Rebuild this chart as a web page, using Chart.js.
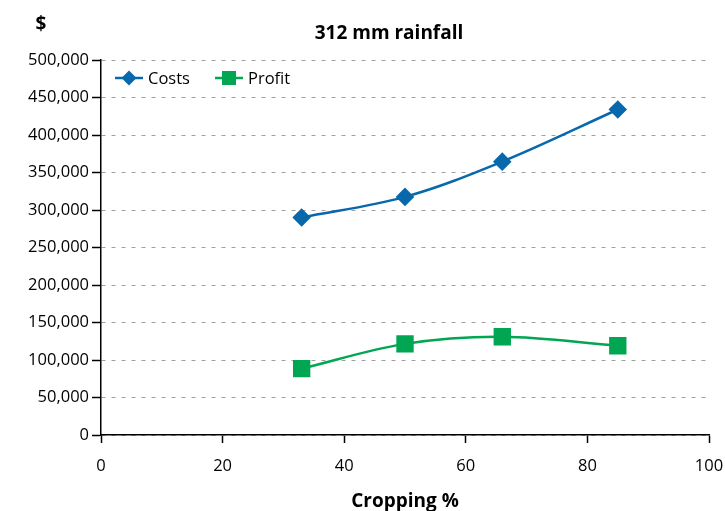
<!DOCTYPE html>
<html><head><meta charset="utf-8">
<script src="https://cdn.jsdelivr.net/npm/chart.js@4/dist/chart.umd.min.js"></script>
<style>html,body{margin:0;padding:0;background:#fff}#wrap{width:725px;height:511px}</style>
</head><body><div id="wrap"><canvas id="c" width="725" height="511"></canvas></div>
<script>
const croppingPct = [33, 50, 66, 85];
const costs = [290000, 317500, 364500, 434000];
const profit = [88500, 121500, 131000, 119000];
const seriesNames = ['Costs', 'Profit'];
const chartTitle = '312 mm rainfall';
const yAxisTitle = '$';
const xAxisTitle = 'Cropping %';

const BLUE = '#0868ac', GREEN = '#00a651';
const FONT = "'Open Sans', sans-serif";

// Draws title, "$" label and the in-plot legend (all as canvas text)
const textPlugin = {
  id: 'texts',
  afterDraw(chart) {
    const ctx = chart.ctx;
    ctx.save();
    ctx.fillStyle = '#000';
    ctx.textAlign = 'center'; ctx.textBaseline = 'middle';
    ctx.font = "bold 19px " + FONT;
    ctx.fillText(chartTitle, 389, 34);
    ctx.fillText(yAxisTitle, 41, 25);
    // legend
    const ds = chart.data.datasets;
    const items = [{x: 115, style: 'diamond'}, {x: 215, style: 'square'}];
    ctx.font = "16.5px " + FONT;
    ctx.textAlign = 'left';
    items.forEach((it, i) => {
      const col = ds[i].borderColor, y = 78;
      ctx.strokeStyle = col; ctx.lineWidth = 2.5;
      ctx.beginPath(); ctx.moveTo(it.x, y); ctx.lineTo(it.x + 28, y); ctx.stroke();
      ctx.fillStyle = col;
      ctx.beginPath();
      const cx = it.x + 14;
      if (it.style === 'diamond') { ctx.moveTo(cx, y - 7.5); ctx.lineTo(cx + 7.5, y); ctx.lineTo(cx, y + 7.5); ctx.lineTo(cx - 7.5, y); ctx.closePath(); }
      else { ctx.rect(cx - 7, y - 7, 14, 14); }
      ctx.fill();
      ctx.fillStyle = '#000';
      ctx.fillText(ds[i].label, it.x + 33, y + 1);
    });
    ctx.restore();
  }
};

new Chart(document.getElementById('c'), {
  type: 'line',
  data: {
    datasets: [
      { label: seriesNames[0], data: croppingPct.map((x, i) => ({x, y: costs[i]})),
        borderColor: BLUE, backgroundColor: BLUE, borderWidth: 2.5,
        pointStyle: 'rectRot', pointRadius: 7.5, pointHoverRadius: 7.5, tension: 0.35 },
      { label: seriesNames[1], data: croppingPct.map((x, i) => ({x, y: profit[i]})),
        borderColor: GREEN, backgroundColor: GREEN, borderWidth: 2.5,
        pointStyle: 'rect', pointRadius: 10.5, pointHoverRadius: 10.5, tension: 0.35 }
    ]
  },
  options: {
    responsive: false, animation: false,
    layout: { padding: { top: 60, right: 16, left: 0, bottom: 0 } },
    plugins: {
      title: { display: false },
      tooltip: { enabled: false },
      legend: { display: false }
    },
    scales: {
      x: {
        type: 'linear', min: 0, max: 100,
        ticks: { stepSize: 20, color: '#000', font: { family: FONT, size: 16.5 }, padding: 13 },
        grid: { display: true, drawOnChartArea: false, drawTicks: true, tickLength: 8, tickColor: '#000', tickWidth: 1.5 },
        border: { color: '#000', width: 1.5 },
        title: { display: true, text: xAxisTitle, color: '#000', font: { family: FONT, size: 19, weight: 'bold', lineHeight: 1.0 }, padding: { top: 0, bottom: 0 } },
        afterFit(s) { s.height = 76; s.paddingLeft = 0; s.paddingRight = 0; }
      },
      y: {
        min: 0, max: 500000,
        ticks: { stepSize: 50000, color: '#000', font: { family: FONT, size: 16.5 }, padding: 3,
          callback: v => v.toLocaleString('en-US') },
        grid: { color: '#a0a0a0', tickColor: '#000', tickLength: 9, drawTicks: true,
          tickBorderDash: [0, 0], tickWidth: 1.5 },
        border: { color: '#000', width: 1.5, dash: [4, 6] },
        afterFit(s) { s.width = 101; s.paddingTop = 0; s.paddingBottom = 0; }
      }
    }
  },
  plugins: [textPlugin]
});
</script></body></html>
